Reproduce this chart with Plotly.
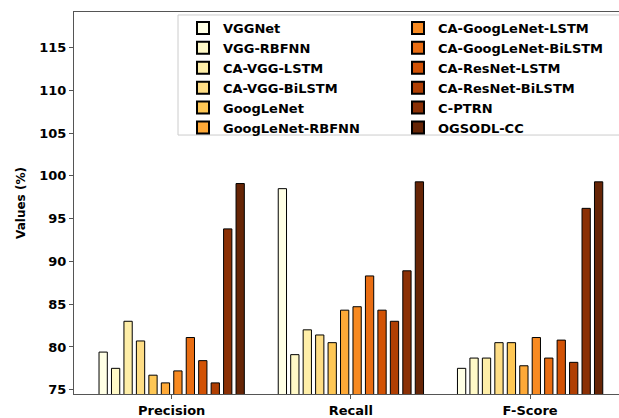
import plotly.graph_objects as go

categories = ["Precision", "Recall", "F-Score"]
models = ["VGGNet", "VGG-RBFNN", "CA-VGG-LSTM", "CA-VGG-BiLSTM", "GoogLeNet",
          "GoogLeNet-RBFNN", "CA-GoogLeNet-LSTM", "CA-GoogLeNet-BiLSTM",
          "CA-ResNet-LSTM", "CA-ResNet-BiLSTM", "C-PTRN", "OGSODL-CC"]
precision = [79.4, 77.5, 83.0, 80.7, 76.7, 75.8, 77.2, 81.1, 78.4, 75.8, 93.8, 99.1]
recall = [98.5, 79.1, 82.0, 81.4, 80.5, 84.3, 84.7, 88.3, 84.3, 83.0, 88.9, 99.3]
fscore = [77.5, 78.7, 78.7, 80.5, 80.5, 77.8, 81.1, 78.7, 80.8, 78.2, 96.2, 99.3]
colors = ["#ffffe5", "#fff9c7", "#feeea8", "#fedd85", "#fec755", "#fea937",
          "#f88a21", "#e96d12", "#d25205", "#b03f03", "#8b3005", "#662506"]

FONT = "DejaVu Sans"
L, R, T, B = 74, 0, 12, 21
W, H = 619, 418
PW, PH = W - L - R, H - T - B


def px_x(px):
    return (px - L) / PW


def px_y(py):
    return (H - B - py) / PH


fig = go.Figure()
for i, m in enumerate(models):
    fig.add_trace(go.Bar(
        x=categories, y=[precision[i], recall[i], fscore[i]], name=m,
        marker=dict(color=colors[i], line=dict(color="black", width=1)),
        legend="legend" if i < 6 else "legend2",
    ))

leg_common = dict(
    orientation="v", yanchor="top", xanchor="left",
    font=dict(family=FONT, size=13, color="black", weight="bold"),
    bgcolor="rgba(0,0,0,0)", borderwidth=0, itemsizing="constant",
    tracegroupgap=0,
)

fig.update_layout(
    width=W, height=H,
    margin=dict(l=L, r=R, t=T, b=B),
    plot_bgcolor="white", paper_bgcolor="white",
    barmode="group", bargap=0.166, bargroupgap=0.335,
    font=dict(family=FONT, size=13, color="black", weight="bold"),
    showlegend=True,
    legend=dict(x=px_x(183), y=px_y(13), **leg_common),
    legend2=dict(x=px_x(398), y=px_y(13), **leg_common),
    shapes=[dict(type="rect", xref="paper", yref="paper",
                 x0=px_x(178), x1=px_x(630), y0=px_y(136), y1=px_y(15),
                 line=dict(color="#cccccc", width=1),
                 fillcolor="rgba(255,255,255,0.8)", layer="below")],
    xaxis=dict(
        range=[-0.545, 2.496], showline=True, linecolor="#555555", linewidth=1.2,
        mirror=True, ticks="outside", ticklen=4, tickcolor="#555555",
        showgrid=False, tickfont=dict(family=FONT, size=13, weight="bold"),
    ),
    yaxis=dict(
        range=[74.5, 119.15], tickvals=[75, 80, 85, 90, 95, 100, 105, 110, 115],
        showline=True, linecolor="#555555", linewidth=1.2, ticks="outside",
        ticklen=4, tickcolor="#555555", showgrid=False, zeroline=False,
        tickfont=dict(family=FONT, size=13, weight="bold"),
        title=dict(text="Values (%)", font=dict(family=FONT, size=12, weight="bold"),
                   standoff=10),
    ),
)

fig.write_html("out.html")
